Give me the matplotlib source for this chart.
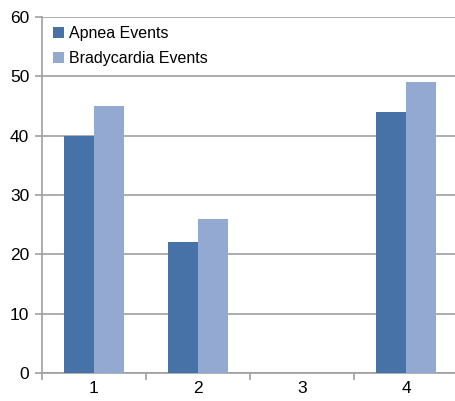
import matplotlib
matplotlib.use("Agg")
import matplotlib.pyplot as plt
import numpy as np

plt.rcParams['font.family'] = ['Liberation Sans', 'DejaVu Sans']

categories = ["1", "2", "3", "4"]
apnea = [40, 22, 0, 44]
brady = [45, 26, 0, 49]
labels = ["Apnea Events", "Bradycardia Events"]

fig = plt.figure(figsize=(4.55, 4.01), dpi=100)
ax = fig.add_axes([0.092, 0.07, 0.915, 0.888])

x = np.arange(1, len(categories) + 1)
w = 0.29
ax.bar(x - w/2, apnea, w, color="#4672a8", label=labels[0], zorder=3)
ax.bar(x + w/2, brady, w, color="#94a9d2", label=labels[1], zorder=3)

ax.set_xlim(0.5, 4.5)
ax.set_ylim(0, 60)
ax.set_yticks(range(0, 61, 10))
ax.set_xticks(x)
ax.set_xticklabels(categories)
ax.set_xticks(np.arange(0.5, 4.6, 1), minor=True)
ax.tick_params(axis='x', which='major', length=0, labelsize=12.5, pad=6)
ax.tick_params(axis='x', which='minor', length=5, color="#a0a0a0", width=1.2)
ax.tick_params(axis='y', length=5, color="#a0a0a0", width=1.2, labelsize=12.5, pad=4)
ax.yaxis.grid(True, color="#a0a0a0", linewidth=1.2, zorder=0)
ax.set_axisbelow(True)
for s in ["top", "right"]:
    ax.spines[s].set_visible(False)
for s in ["left", "bottom"]:
    ax.spines[s].set_color("#a0a0a0")
    ax.spines[s].set_linewidth(1.2)

leg = ax.legend(loc="upper left", frameon=False, fontsize=11.5,
                handlelength=0.65, handleheight=0.65, handletextpad=0.35,
                labelspacing=0.65, borderaxespad=0.4, bbox_to_anchor=(-0.003, 1.01))

fig.savefig("out.png", dpi=100)
